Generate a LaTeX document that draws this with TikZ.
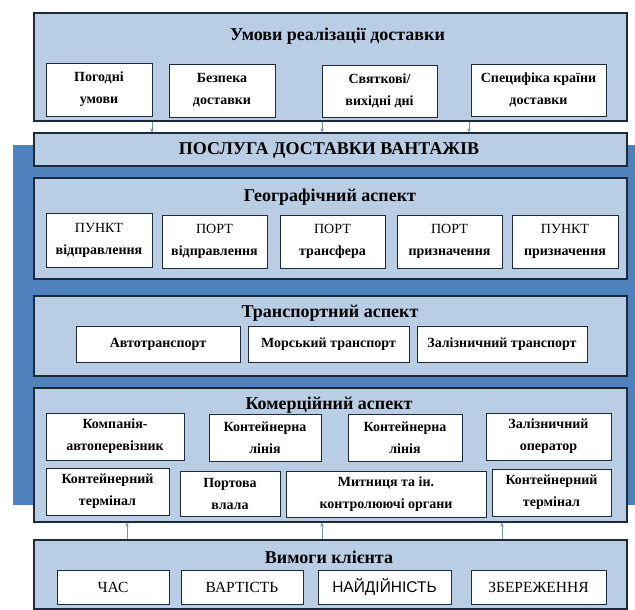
\documentclass[tikz,border=0pt]{standalone}
\usepackage{fontspec}
\setmainfont{Liberation Serif}
\newfontfamily\sansf{Liberation Sans}
\usetikzlibrary{calc,arrows.meta}
\definecolor{panelfill}{HTML}{B9CDE5}
\definecolor{bgblue}{HTML}{4F81BD}
\definecolor{edgecol}{HTML}{1C2A3A}
\definecolor{arrcol}{HTML}{6F92BE}
\newcommand\mkbox[7][]{\node[ibox,#1,minimum width={(#5-#3)*1pt},minimum height={(#6-#4)*1pt}] (#2) at ({(#3+#5)/2},{(#4+#6)/2}) {#7};}
\begin{document}
\begin{tikzpicture}[x=1pt,y=-1pt,
 panel/.style={draw=edgecol, line width=1.1pt, fill=panelfill, inner sep=0pt, minimum width=593pt},
 ibox/.style={draw=edgecol, line width=0.9pt, fill=white, align=center, inner sep=0pt, font=\bfseries\fontsize{14}{22}\selectfont},
 lowbox/.style={font=\fontsize{15.5}{18}\selectfont},
 ptitle/.style={font=\bfseries\fontsize{18}{20}\selectfont, inner sep=0pt},
 arr/.style={draw=arrcol, line width=0.6pt, -{Stealth[length=4pt,width=3.5pt]}}]
\useasboundingbox (0,0) rectangle (635,610);
\fill[white] (0,0) rectangle (635,610);
\fill[bgblue] (13,145) rectangle (635,505);

% panels
\node[panel, minimum height=108pt] (P1) at (330.5,67) {};
\node[panel, minimum height=33pt] (P2) at (330.5,149.5) {};
\node[panel, minimum height=101pt] (P3) at (330.5,228.5) {};
\node[panel, minimum height=80pt] (P4) at (330.5,336) {};
\node[panel, minimum height=134pt] (P5) at (330.5,455) {};
\node[panel, minimum height=69pt] (P6) at (330.5,574.5) {};

% titles
\node[ptitle] (T1) at (337.5,36) {Умови реалізації доставки};
\node[ptitle] (T2) at (329,150) {ПОСЛУГА ДОСТАВКИ ВАНТАЖІВ};
\node[ptitle] (T3) at (330,197) {Географічний аспект};
\node[ptitle] (T4) at (330,313) {Транспортний аспект};
\node[ptitle] (T5) at (329,405) {Комерційний аспект};
\node[ptitle] (T6) at (329,557) {Вимоги клієнта};

% P1 boxes
\mkbox{a1}{46}{63}{152}{116}{Погодні\\умови}
\mkbox{a2}{169}{64}{275}{117}{Безпека\\доставки}
\mkbox{a3}{322}{65}{437}{117}{Святкові/\\вихідні дні}
\mkbox{a4}{471}{64}{606}{116}{Специфіка країни\\доставки}

% P3 boxes
\mkbox{g1}{46}{213}{152}{267}{\mdseries ПУНКТ\\відправлення}
\mkbox{g2}{162}{215}{267}{268}{\mdseries ПОРТ\\відправлення}
\mkbox{g3}{280}{215}{385}{268}{\mdseries ПОРТ\\трансфера}
\mkbox{g4}{397}{215}{502}{268}{\mdseries ПОРТ\\призначення}
\mkbox{g5}{512}{215}{618}{268}{\mdseries ПУНКТ\\призначення}

% P4 boxes
\mkbox{t1}{76}{326}{240}{362}{Автотранспорт}
\mkbox{t2}{248}{326}{409}{362}{Морський транспорт}
\mkbox{t3}{417}{326}{587}{362}{Залізничний транспорт}

% P5 boxes
\mkbox{c1}{46}{413}{184}{460}{Компанія-\\автоперевізник}
\mkbox{c2}{209}{414}{321}{461}{Контейнерна\\лінія}
\mkbox{c3}{348}{414}{462}{461}{Контейнерна\\лінія}
\mkbox{c4}{486}{413}{611}{460}{Залізничний\\оператор}
\mkbox{d1}{46}{468}{169}{515}{Контейнерний\\термінал}
\mkbox{d2}{180}{471}{280}{516}{Портова\\влала}
\mkbox{d3}{286}{471}{486}{517}{Митниця та ін.\\контролюючі органи}
\mkbox{d4}{492}{469}{611}{516}{Контейнерний\\термінал}

% P6 boxes
\mkbox[lowbox]{v1}{57}{570}{169}{604}{ЧАС}
\mkbox[lowbox]{v2}{181}{570}{303}{604}{ВАРТІСТЬ}
\mkbox[lowbox]{v3}{318}{570}{451}{604}{\sansf НАЙДІЙНІСТЬ}
\mkbox[lowbox]{v4}{471}{570}{606}{604}{ЗБЕРЕЖЕННЯ}

% arrows top
\coordinate (k1) at (152,0);
\coordinate (k2) at (322,0);
\coordinate (k3) at (469,0);
\foreach \k in {k1,k2,k3} \draw[arr] (P1.south -| \k) -- (P2.north -| \k);
% arrows bottom
\coordinate (m1) at (127,0);
\coordinate (m2) at (322,0);
\coordinate (m3) at (502,0);
\foreach \m in {m1,m2,m3} \draw[arr] (P6.north -| \m) -- (P5.south -| \m);
\end{tikzpicture}
\end{document}
